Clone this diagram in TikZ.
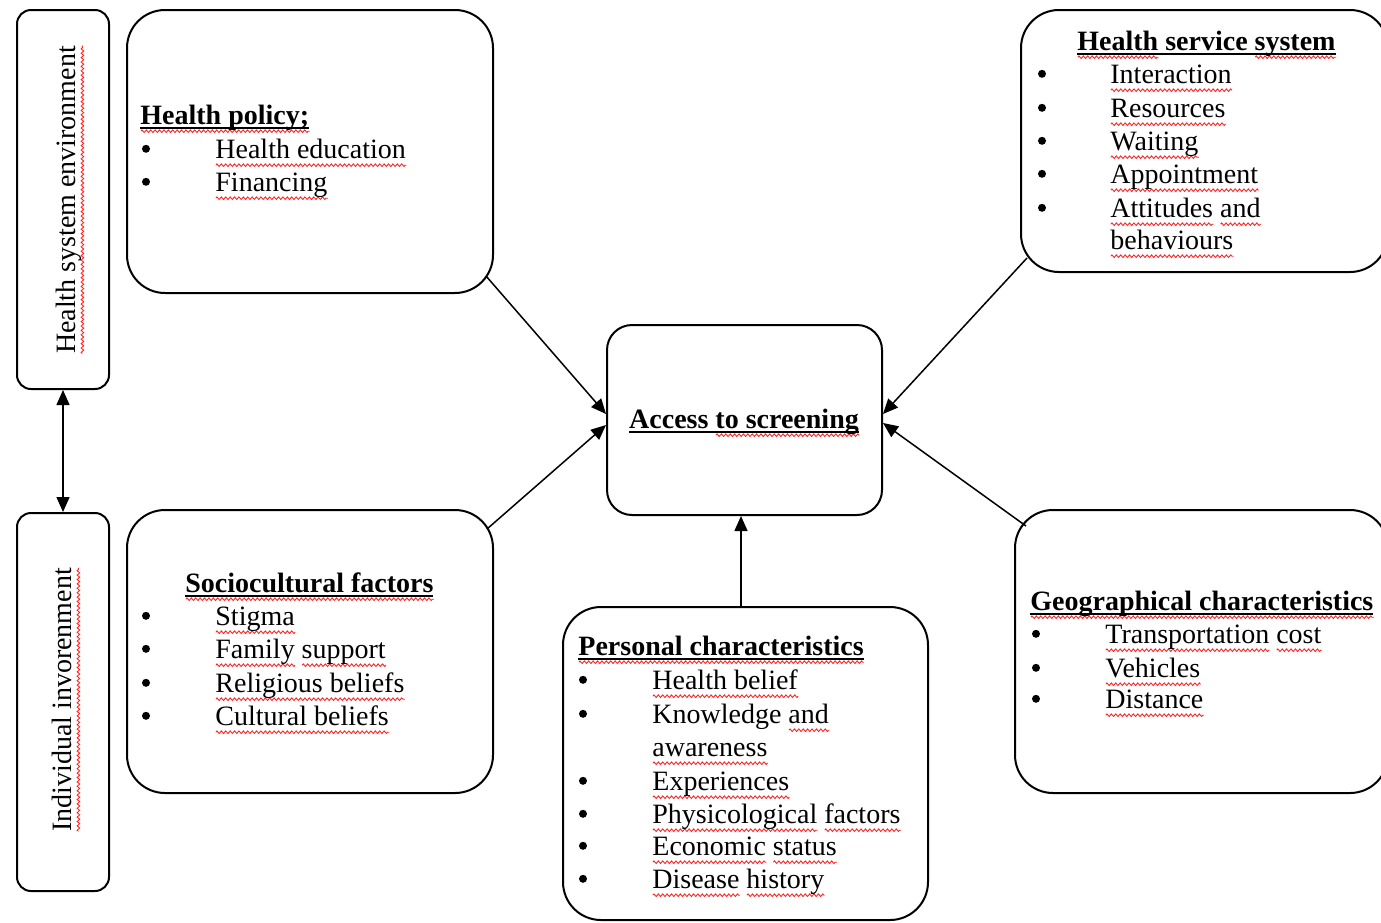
\documentclass[tikz,border=0pt]{standalone}
\usepackage{fontspec}
\setmainfont{Liberation Serif}
\usetikzlibrary{arrows.meta,calc,decorations.pathmorphing}
\tikzset{sqline/.style={draw=red!85, line width=0.45pt, decorate, decoration={zigzag, amplitude=0.65pt, segment length=2.2pt}}}
\newlength\sqw
\newcommand\sq[1]{\settowidth\sqw{#1}\leavevmode\rlap{\tikz[baseline=0pt]\draw[sqline](0pt,-3.6pt)--(\sqw,-3.6pt);}#1}
\newcommand\ul[1]{\settowidth\sqw{#1}\leavevmode\rlap{\rule[-2.4pt]{\sqw}{0.75pt}}#1}
\begin{document}
\begin{tikzpicture}[x=0.5pt,y=-0.5pt,
  bigbox/.style={draw, line width=1pt, rounded corners=19pt, inner sep=0pt},
  sidebox/.style={draw, line width=1pt, rounded corners=7pt, inner sep=0pt},
  txt/.style={anchor=base west, inner sep=0pt, font=\fontsize{14pt}{16.5pt}\selectfont},
  ctxt/.style={anchor=base, inner sep=0pt, font=\fontsize{14pt}{16.5pt}\selectfont},
  bul/.style={circle, fill, inner sep=0pt, minimum size=4pt, yshift=4.6pt},
  vtxt/.style={rotate=90, inner sep=0pt, font=\fontsize{14pt}{16.5pt}\selectfont},
  arr/.style={line width=0.75pt, -{Triangle[length=7.5pt,width=6.5pt]}},
  darr/.style={line width=0.75pt, {Triangle[length=7.5pt,width=6.5pt]}-{Triangle[length=7.5pt,width=6.5pt]}}]
\useasboundingbox (0,0) rectangle (1381,922);
\fill[white] (0,0) rectangle (1381,922);

% boxes
\node[sidebox, minimum width=46pt, minimum height=189.5pt] (hse) at (63,199.5) {};
\node[sidebox, minimum width=46pt, minimum height=189pt] (ie) at (63,702) {};
\node[bigbox, minimum width=183pt, minimum height=141.5pt] (hp) at (310,151.5) {};
\node[bigbox, minimum width=183pt, minimum height=141.5pt] (sc) at (310,651.5) {};
\node[bigbox, rounded corners=12.5pt, minimum width=137.5pt, minimum height=95pt] (acc) at (744.5,420) {};
\node[bigbox, minimum width=183.5pt, minimum height=131pt] (hs) at (1204.5,141) {};
\node[bigbox, minimum width=182.5pt, minimum height=156.5pt] (pc) at (745.5,763.5) {};
\node[bigbox, minimum width=186.5pt, minimum height=141.5pt] (geo) at (1201.5,651.5) {};

% vertical labels
\node[vtxt] (hsel) at (70,200) {\sq{Health system environment}};
\node[vtxt] (iel) at (66,700) {\sq{Individual invorenment}};

% access
\node[ctxt] (accl) at (744,428) {\ul{\textbf{Access \sq{to screening}}}};

% health policy
\node[txt] (hpt) at (140,124) {\ul{\textbf{\sq{Health policy;}}}};
\node[bul] (hpb1) at (146,158) {};
\node[bul] (hpb2) at (146,191) {};
\node[txt] (hpi1) at (215,158) {\sq{Health education}};
\node[txt] (hpi2) at (215,191) {\sq{Financing}};

% health service system
\node[txt] (hst) at (1077,50) {\ul{\textbf{\sq{Health} service \sq{system}}}};
\node[bul] (hsb1) at (1042,83) {};
\node[bul] (hsb2) at (1042,117) {};
\node[bul] (hsb3) at (1042,150) {};
\node[bul] (hsb4) at (1042,183) {};
\node[bul] (hsb5) at (1042,217) {};
\node[txt] (hsi1) at (1110,83) {\sq{Interaction}};
\node[txt] (hsi2) at (1110,117) {\sq{Resources}};
\node[txt] (hsi3) at (1110,150) {\sq{Waiting}};
\node[txt] (hsi4) at (1110,183) {\sq{Appointment}};
\node[txt] (hsi5) at (1110,217) {\sq{Attitudes} \sq{and}};
\node[txt] (hsi6) at (1110,249) {\sq{behaviours}};

% sociocultural
\node[txt] (sct) at (185,592) {\ul{\textbf{\sq{Sociocultural factors}}}};
\node[bul] (scb1) at (146,625) {};
\node[bul] (scb2) at (146,658) {};
\node[bul] (scb3) at (146,692) {};
\node[bul] (scb4) at (146,725) {};
\node[txt] (sci1) at (215,625) {\sq{Stigma}};
\node[txt] (sci2) at (215,658) {\sq{Family} \sq{support}};
\node[txt] (sci3) at (215,692) {\sq{Religious beliefs}};
\node[txt] (sci4) at (215,725) {\sq{Cultural beliefs}};

% personal
\node[txt] (pct) at (578,655) {\ul{\textbf{\sq{Personal characteristics}}}};
\node[bul] (pcb1) at (583,689) {};
\node[bul] (pcb2) at (583,723) {};
\node[bul] (pcb3) at (583,790) {};
\node[bul] (pcb4) at (583,823) {};
\node[bul] (pcb5) at (583,855) {};
\node[bul] (pcb6) at (583,888) {};
\node[txt] (pci1) at (652,689) {\sq{Health belief}};
\node[txt] (pci2) at (652,723) {Knowledge \sq{and}};
\node[txt] (pci2b) at (652,756) {\sq{awareness}};
\node[txt] (pci3) at (652,790) {\sq{Experiences}};
\node[txt] (pci4) at (652,823) {\sq{Physicological} \sq{factors}};
\node[txt] (pci5) at (652,855) {\sq{Economic} \sq{status}};
\node[txt] (pci6) at (652,888) {\sq{Disease} \sq{history}};

% geographical
\node[txt] (geot) at (1030,610) {\ul{\textbf{\sq{Geographical characteristics}}}};
\node[bul] (geob1) at (1036,643) {};
\node[bul] (geob2) at (1036,677) {};
\node[bul] (geob3) at (1036,708) {};
\node[txt] (geoi1) at (1105,643) {\sq{Transportation} \sq{cost}};
\node[txt] (geoi2) at (1105,677) {\sq{Vehicles}};
\node[txt] (geoi3) at (1105,708) {\sq{Distance}};

% connectors
\draw[arr] ($(hp.south east)+(-8,-18)$) -- ($(acc.west)+(0,-6)$);
\draw[arr] ($(sc.north east)+(-7,20)$) -- ($(acc.west)+(0,5)$);
\draw[arr] ($(hs.south west)+(7,-15)$) -- ($(acc.east)+(0,-6)$);
\draw[arr] ($(geo.north west)+(12,17)$) -- ($(acc.east)+(0,3)$);
\draw[arr] ($(pc.north)+(-4.5,0)$) -- ($(acc.south)+(-3.5,0)$);
\draw[darr] (hse.south) -- (ie.north);
\end{tikzpicture}
\end{document}
